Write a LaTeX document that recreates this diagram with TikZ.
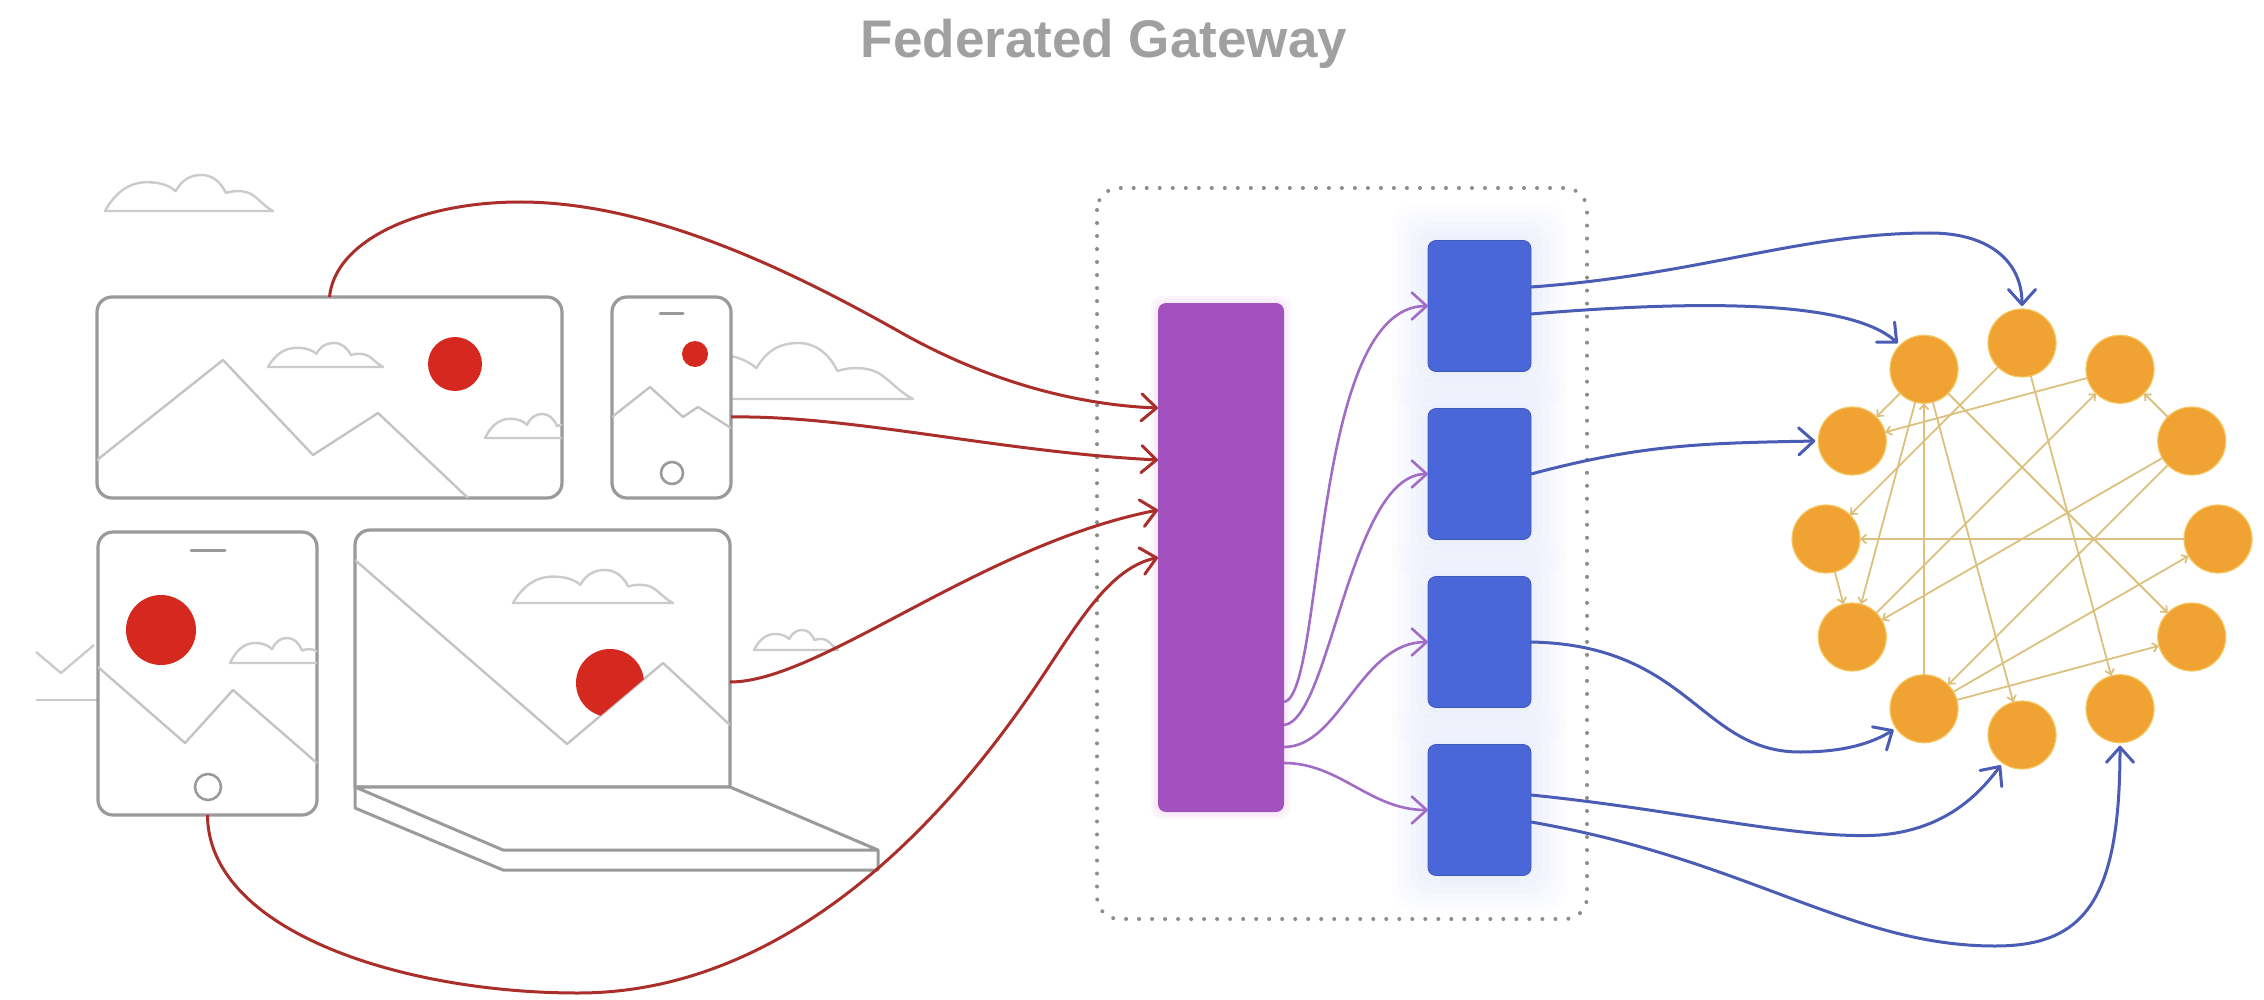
\documentclass[tikz,border=0pt]{standalone}
\usepackage{fontspec}
\newfontfamily\titlefont{Liberation Sans}
\usetikzlibrary{arrows.meta}

\definecolor{devgray}{HTML}{9A9A9A}
\definecolor{innergray}{HTML}{C4C4C4}
\definecolor{cloudgray}{HTML}{CBCBCB}
\definecolor{redline}{HTML}{AA2E2A}
\definecolor{reddot}{HTML}{D5281F}
\definecolor{gwpurple}{HTML}{A251BF}
\definecolor{gwglow}{HTML}{F6E4F6}
\definecolor{purpline}{HTML}{A06CC6}
\definecolor{svcblue}{HTML}{4967D8}
\definecolor{haze}{HTML}{D3DAF7}
\definecolor{blueline}{HTML}{4B5CB5}
\definecolor{orbfill}{HTML}{F0A233}
\definecolor{orbrim}{HTML}{F5C863}
\definecolor{orbedge}{HTML}{DCC07E}
\definecolor{dotgray}{HTML}{8C8C8C}
\definecolor{titlegray}{HTML}{A0A0A0}

% a cloud outline: base line from (#2,#3), width #4, height #5
\newcommand\cloudat[5][]{%
  \begin{scope}[shift={(#2,#3)},x=#4pt,y=#5pt]
    \draw[cloudln,#1] (0,0) .. controls (0.06,0.5) and (0.14,0.8) .. (0.25,0.8)
      .. controls (0.34,0.8) and (0.39,0.68) .. (0.42,0.55)
      .. controls (0.46,0.88) and (0.51,1) .. (0.575,1)
      .. controls (0.64,1) and (0.69,0.8) .. (0.72,0.5)
      .. controls (0.77,0.58) and (0.83,0.57) .. (0.87,0.47)
      .. controls (0.91,0.36) and (0.95,0.12) .. (1,0) -- cycle;
  \end{scope}}

\begin{document}
\begin{tikzpicture}[x=1pt,y=-1pt,
  dev/.style={draw=devgray,line width=3.2pt,fill=white,rounded corners=15pt,inner sep=0pt,outer sep=0pt},
  inner/.style={draw=innergray,line width=2.4pt,line join=round,line cap=round},
  cloudln/.style={draw=cloudgray,line width=2.4pt,line join=round},
  barb/.style={-{Straight Barb[length=15pt,width=27pt,round]}},
  redarrow/.style={draw=redline,line width=3pt,barb},
  purparrow/.style={draw=purpline,line width=2.6pt,barb},
  bluearrow/.style={draw=blueline,line width=3pt,barb,shorten >=3pt},
  gwbar/.style={fill=gwpurple,rounded corners=8pt,minimum width=126pt,minimum height=509pt,inner sep=0pt,outer sep=0pt},
  svcbox/.style={fill=svcblue,draw=svcblue!85!black,line width=0.8pt,rounded corners=8pt,minimum width=103pt,minimum height=131pt,inner sep=0pt,outer sep=0pt},
  ringnode/.style={circle,fill=orbfill,draw=orbrim,line width=1.2pt,minimum size=68pt,inner sep=0pt,outer sep=0pt},
  ringedge/.style={draw=orbedge,line width=1.8pt,-{Straight Barb[length=5pt,width=9pt]}},
  frame/.style={draw=dotgray,line width=4pt,line cap=round,dash pattern=on 0.01pt off 13pt,rounded corners=22pt}]

\useasboundingbox (0,0) rectangle (2264,1000);

% title
\node[anchor=base,text=titlegray,font=\titlefont\bfseries\fontsize{53}{60}\selectfont] (title) at (1104,58) {Federated Gateway};

% background clouds and hills behind the devices
\cloudat{105}{211}{168}{36}
\cloudat{643}{399}{270}{56}
\cloudat{754}{650}{84}{20}
\draw[cloudln] (36,652) -- (61,673) -- (94,645);
\draw[cloudln] (36,700) -- (98,700);

% ---- client devices ----
% television
\node[dev,minimum width=465pt,minimum height=201pt] (tv) at (329.5,397.5) {};
\begin{scope}
  \clip[rounded corners=15pt] (97,297) rectangle (562,498);
  \draw[inner] (97,460) -- (223,360) -- (313,455) -- (378,413) -- (468,498);
  \cloudat{268}{367}{115}{24}
  \cloudat{485}{438}{100}{24}
  \fill[reddot] (455,364) circle[radius=27pt];
\end{scope}

% phone
\node[dev,minimum width=119pt,minimum height=201pt] (phone) at (671.5,397.5) {};
\begin{scope}
  \clip[rounded corners=15pt] (612,297) rectangle (731,498);
  \draw[inner] (612,417) -- (650,387) -- (683,417) -- (698,407) -- (731,428);
  \fill[reddot] (695,354) circle[radius=13pt];
\end{scope}
\draw[draw=devgray,line width=3pt,line cap=round] (660,313) -- (683,313);
\draw[draw=devgray,line width=2.6pt] (672,473) circle[radius=11pt];

% tablet
\node[dev,minimum width=219pt,minimum height=283pt] (tablet) at (207.5,673.5) {};
\begin{scope}
  \clip[rounded corners=15pt] (98,532) rectangle (317,815);
  \draw[inner] (98,667) -- (185,743) -- (233,690) -- (317,763);
  \cloudat{230}{663}{100}{25}
  \fill[reddot] (161,630) circle[radius=35pt];
\end{scope}
\draw[draw=devgray,line width=3pt,line cap=round] (191,550) -- (225,550);
\draw[draw=devgray,line width=2.6pt] (208,787) circle[radius=13pt];

% laptop
\node[inner sep=0pt,outer sep=0pt,minimum width=375pt,minimum height=257pt] (laptop) at (542.5,658.5) {};
\draw[draw=devgray,line width=3.2pt,line join=round,fill=white]
  (355,787) -- (355,545) arc[start angle=180,end angle=90,radius=15pt]
  -- (715,530) arc[start angle=90,end angle=0,radius=15pt] -- (730,787) -- cycle;
\begin{scope}
  \clip (355,530) rectangle (730,787);
  \draw[inner] (355,560) -- (567,744) -- (663,663) -- (730,725);
  \cloudat{513}{603}{160}{33}
\end{scope}
\begin{scope}
  \clip (355,530) -- (355,560) -- (567,744) -- (663,663) -- (730,725) -- (730,530) -- cycle;
  \fill[reddot] (610,683) circle[radius=34pt];
\end{scope}
\draw[draw=devgray,line width=3pt,line join=round,fill=white]
  (355,787) -- (730,787) -- (878,850) -- (503,850) -- cycle;
\draw[draw=devgray,line width=3pt,line join=round]
  (355,787) -- (355,808) -- (503,870) -- (878,870) -- (878,850);

% ---- gateway ----
\draw[frame] (1097,188) rectangle (1587,919);

\foreach \k/\op in {7/0.35,4/0.5}{
  \fill[gwglow,opacity=\op,rounded corners=12pt] (1158-\k,303-\k) rectangle (1284+\k,812+\k);
}
\node[gwbar] (gw) at (1221,557.5) {};

\foreach \yy in {306,474,642,810}{
  \foreach \k/\op in {36/0.05,30/0.06,24/0.07,18/0.08,12/0.1,6/0.12}{
    \fill[haze,opacity=\op,rounded corners=20pt] (1428-\k,\yy-65.5-\k) rectangle (1531+\k,\yy+65.5+\k);
  }
}
\node[svcbox] (b1) at (1479.5,306) {};
\node[svcbox] (b2) at (1479.5,474) {};
\node[svcbox] (b3) at (1479.5,642) {};
\node[svcbox] (b4) at (1479.5,810) {};

% requests from the devices into the gateway
\draw[redarrow] (tv.north) .. controls (335,240) and (420,202) .. (520,202)
  .. controls (650,202) and (790,270) .. (900,332)
  .. controls (990,383) and (1080,405) .. ([yshift=149.5pt]gw.west);
\draw[redarrow] ([yshift=-19.5pt]phone.east) .. controls (850,415) and (1000,452) .. ([yshift=97.5pt]gw.west);
\draw[redarrow] ([yshift=-23.5pt]laptop.east) .. controls (820,682) and (980,545) .. ([yshift=47.5pt]gw.west);
\draw[redarrow] (tablet.south) .. controls (208,930) and (400,993) .. (578,993)
  .. controls (800,993) and (960,800) .. (1040,680)
  .. controls (1080,620) and (1110,568) .. (gw.west);

% gateway fan-out to the services
\draw[purparrow] ([yshift=-144.5pt]gw.east) .. controls (1325,695) and (1310,306) .. (b1.west);
\draw[purparrow] ([yshift=-167.5pt]gw.east) .. controls (1330,720) and (1350,474) .. (b2.west);
\draw[purparrow] ([yshift=-189.5pt]gw.east) .. controls (1340,747) and (1360,642) .. (b3.west);
\draw[purparrow] ([yshift=-205.5pt]gw.east) .. controls (1340,763) and (1370,810) .. (b4.west);

% ---- service graph ----
\foreach \i/\a in {0/90,1/60,2/30,3/0,4/-30,5/-60,6/-90,7/-120,8/-150,9/180,10/150,11/120}{
  \node[ringnode] (o\i) at ({2022+196*cos(\a)},{539-196*sin(\a)}) {};
}
\foreach \s/\t in {11/10,1/10,0/9,11/8,7/11,11/6,11/4,0/5,8/1,2/8,2/1,3/9,9/8,2/7,7/3,7/4}{
  \draw[ringedge] (o\s) -- (o\t);
}

% services calling into the graph
\draw[bluearrow] ([yshift=19pt]b1.east) .. controls (1700,275) and (1800,233) .. (1930,233)
  .. controls (1990,233) and (2022,262) .. (o0.north);
\draw[bluearrow] ([yshift=-8pt]b1.east) .. controls (1700,300) and (1850,300) .. (o11.135);
\draw[bluearrow] (b2.east) .. controls (1640,445) and (1700,443) .. (o10.west);
\draw[bluearrow] (b3.east) .. controls (1690,645) and (1700,752) .. (1800,752)
  .. controls (1845,752) and (1872,743) .. (o7.215);
\draw[bluearrow] ([yshift=15pt]b4.east) .. controls (1680,810) and (1800,840) .. (1880,835)
  .. controls (1940,830) and (1975,800) .. (o6.235);
\draw[bluearrow] ([yshift=-12pt]b4.east) .. controls (1750,860) and (1850,946) .. (1995,946)
  .. controls (2085,946) and (2120,900) .. (o5.south);

\end{tikzpicture}
\end{document}
